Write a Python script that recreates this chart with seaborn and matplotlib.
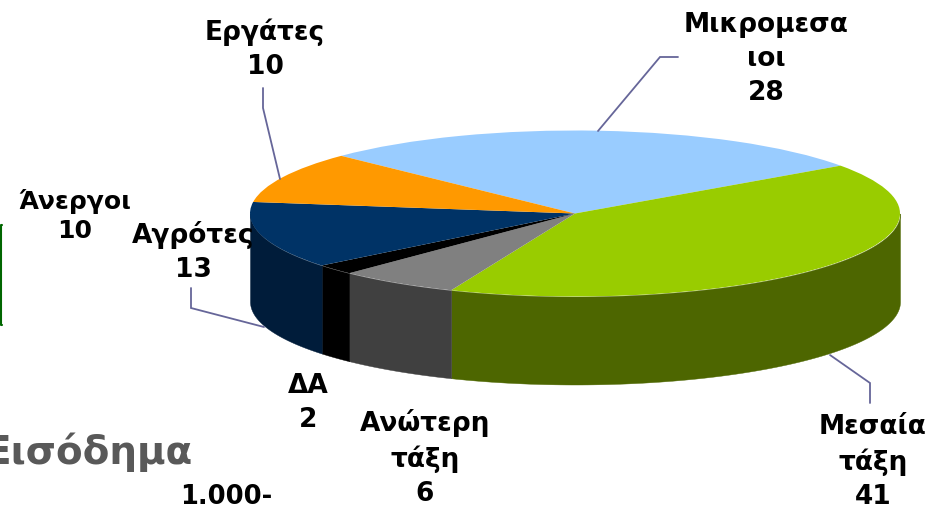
import numpy as np
import matplotlib
matplotlib.use("Agg")
import matplotlib.pyplot as plt
import seaborn as sns

# Data
categories = ["Μικρομεσα\nιοι", "Μεσαία\nτάξη", "Ανώτερη\nτάξη", "ΔΑ", "Αγρότες", "Εργάτες"]
values = [28, 41, 6, 2, 13, 10]
top_colors = ["#99ccff", "#99cc00", "#808080", "#000000", "#003366", "#ff9900"]
side_colors = ["#4d6680", "#4d6600", "#404040", "#000000", "#001c3a", "#804d00"]
extra_label = "Άνεργοι\n10"
income_title = "Εισόδημα"
income_row = "1.000-"

# Layout (pixels of the 929x507 canvas)
W, H = 929, 507
CX, CY, RX, RY, DEPTH = 575, 213.5, 325, 83, 88
START = 136
label_pos = [(766, 59), (873, 462), (425, 458), (308, 403), (193, 252), (265, 49)]
leaders = [
    ([678, 660, 598], [57, 57, 131]),
    ([870, 870, 830], [403, 383, 355]),
    ([191, 191, 264], [288, 308, 327]),
    ([263, 263, 280], [88, 108, 179]),
]

sns.set_theme(style="white")
plt.rcParams["font.family"] = ["DejaVu Sans"]
fig = plt.figure(figsize=(W / 100, H / 100), dpi=100, facecolor="white")

# Pie axes: one data unit is one radius horizontally / vertically
ax = fig.add_axes([0, 0, 1, 1])
ax.pie(values, startangle=START, counterclock=False, colors=sns.color_palette(top_colors),
       radius=1, wedgeprops=dict(linewidth=0, zorder=5))
ax.set_aspect("auto")
ax.set_xlim(-CX / RX, (W - CX) / RX)
ax.set_ylim((CY - H) / RY, CY / RY)
ax.axis("off")

# Front wall of the cylinder, each slice's span derived from the values
shares = np.array(values, dtype=float) / sum(values) * 360
ends = START - np.cumsum(shares)
starts = ends + shares
d = DEPTH / RY
for a0, a1, col in zip(starts, ends, side_colors):
    hi, lo = min(a0, 0), max(a1, -180)
    if hi <= lo:
        continue
    t = np.radians(np.linspace(lo, hi, 120))
    ax.fill_between(np.cos(t), np.sin(t), np.sin(t) - d, color=col, linewidth=0.3, zorder=2)

# Overlay in pixel coordinates for texts and leader lines
ov = fig.add_axes([0, 0, 1, 1], facecolor="none")
ov.set_xlim(0, W)
ov.set_ylim(H, 0)
ov.axis("off")

for xs, ys in leaders:
    ov.plot(xs, ys, color="#666699", lw=1.3, solid_joinstyle="miter")
ov.plot([2, 1, 1, 2], [225, 225, 325, 325], color="#006600", lw=1.5)

FS = 19
for name, val, (x, y) in zip(categories, values, label_pos):
    ov.text(x, y, f"{name}\n{val}", ha="center", va="center", fontsize=FS, fontweight="bold",
            color="black", linespacing=1.38)
ov.text(75, 216, extra_label, ha="center", va="center", fontsize=18, fontweight="bold",
        color="black", linespacing=1.3)
ov.text(193, 452, income_title, ha="right", va="center", fontsize=28, fontweight="bold", color="#595959")
ov.text(272, 497, income_row, ha="right", va="center", fontsize=18.5, fontweight="bold", color="black")

fig.savefig("out.png", dpi=100)
